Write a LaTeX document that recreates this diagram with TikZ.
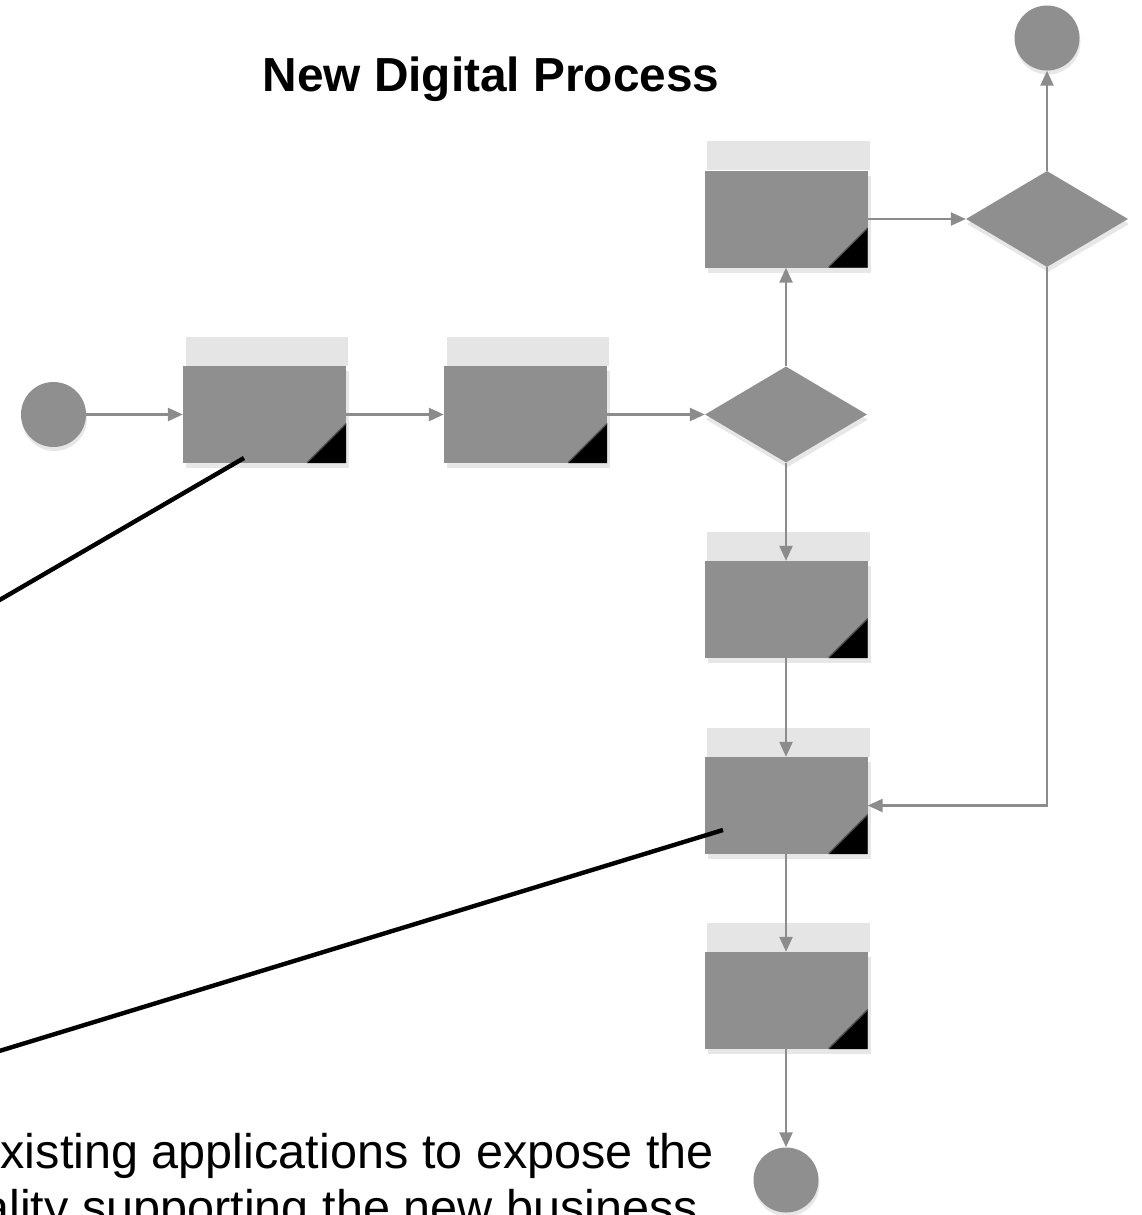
\documentclass[tikz,border=0pt]{standalone}
\usepackage{fontspec}
\setmainfont{Liberation Sans}
\usetikzlibrary{arrows.meta,shapes.geometric,shadows}
\definecolor{boxgray}{RGB}{143,143,143}
\definecolor{linegray}{RGB}{140,140,140}
\definecolor{hdrgray}{RGB}{229,229,229}
\definecolor{shdgray}{RGB}{231,231,231}
\begin{document}
\begin{tikzpicture}[x=1pt,y=-1pt,
  task/.style={rectangle,fill=boxgray,minimum width=163pt,minimum height=97pt,inner sep=0pt,
    drop shadow={shadow xshift=3pt,shadow yshift=-5pt,opacity=1,fill=shdgray}},
  gate/.style={diamond,fill=boxgray,minimum width=162pt,minimum height=96pt,inner sep=0pt,
    drop shadow={shadow xshift=1pt,shadow yshift=-5pt,opacity=1,fill=shdgray}},
  event/.style={circle,fill=boxgray,minimum size=65pt,inner sep=0pt,
    drop shadow={shadow xshift=1pt,shadow yshift=-4pt,opacity=1,fill=shdgray}},
  conn/.style={draw=linegray,line width=2.4pt,-{Triangle[length=15pt,width=13pt]}},
  callout/.style={draw=black,line width=4.4pt},
  header/.style={fill=hdrgray},
  corner/.style={fill=black},
  bodytext/.style={anchor=base west,inner sep=0pt,font=\fontsize{48.6}{56}\selectfont},
]
\useasboundingbox (0,0) rectangle (1141,1215);
\clip (0,0) rectangle (1141,1215);

% nodes
\node[event] (start) at (53.5,414.5) {};
\node[task] (b1) at (264.5,414.5) {};
\node[task] (b2) at (525.5,414.5) {};
\node[gate] (d1) at (786,414.5) {};
\node[task] (b3) at (786,219) {};
\node[gate] (d2) at (1047,219) {};
\node[event] (endtop) at (1047,38) {};
\node[task] (b4) at (786,609.5) {};
\node[task] (b5) at (786,805.5) {};
\node[task] (b6) at (786,1000.5) {};
\node[event] (endbot) at (786,1180) {};

% headers and corner flags
\foreach \n in {b1,b2,b3,b4,b5,b6}{
  \fill[header] ([xshift=3pt]\n.north west) rectangle ([xshift=2pt,yshift=29pt]\n.north east);
  \fill[corner] (\n.south east) -- ++(-39,0) -- ++(39,-39) -- cycle;
  \draw[black!70,line width=1.2pt] ([xshift=-39pt,yshift=0.6pt]\n.south east) -- ([yshift=39.6pt]\n.south east);
}

% connectors
\draw[conn] (start) -- (b1);
\draw[conn] (b1) -- (b2);
\draw[conn] (b2) -- (d1);
\draw[conn] (d1) -- (b3);
\draw[conn] (b3) -- (d2);
\draw[conn] (d2) -- (endtop);
\draw[conn] (d1) -- (b4);
\draw[conn] (b4) -- (b5);
\draw[conn] (d2.south) |- (b5.east);
\draw[conn] (b5) -- (b6);
\draw[conn] (b6) -- (endbot);

% callout lines
\coordinate (p1) at (244,458);
\coordinate (q1) at (-40,623);
\coordinate (p2) at (723,830);
\coordinate (q2) at (-40,1063);
\draw[callout] (p1) -- (q1);
\draw[callout] (p2) -- (q2);

% texts
\node[anchor=base,inner sep=0pt,font=\fontsize{47.8}{57}\selectfont\bfseries] (title) at (491,92) {New Digital Process};
\node[bodytext] (line1) at (0.5,1168) {xisting applications to expose the};
\node[bodytext] (line2) at (-18,1224) {ality supporting the new business};
\end{tikzpicture}
\end{document}
